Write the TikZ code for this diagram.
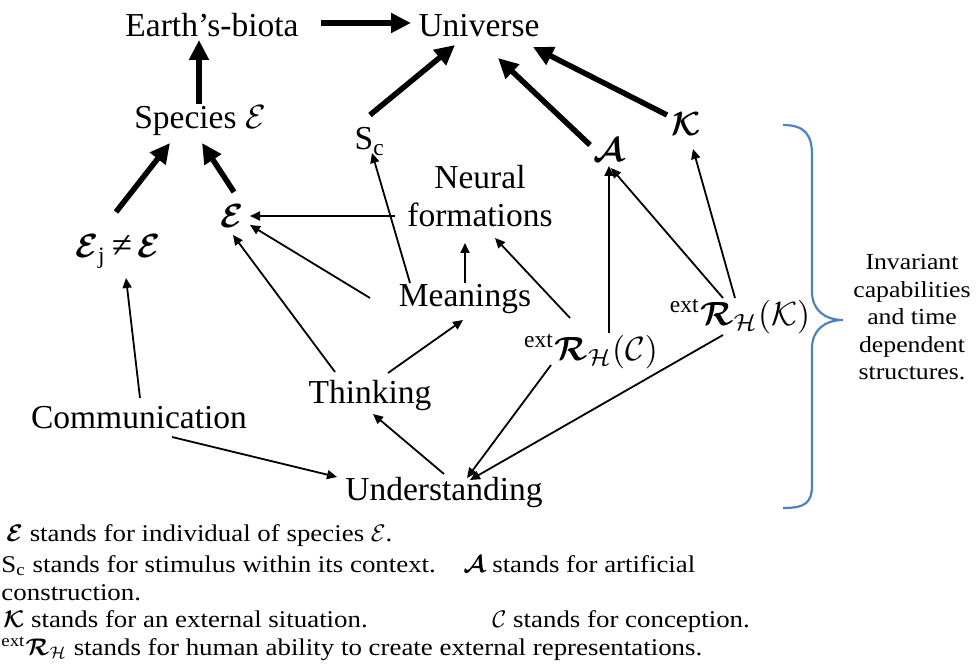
\documentclass[tikz,border=0pt]{standalone}
\usepackage{amsmath}
\usepackage{bm}
\usepackage{fontspec}
\setmainfont{Liberation Serif}
\newfontfamily\legfont[FakeStretch=1.12]{Liberation Serif}
\usetikzlibrary{arrows.meta}
\newcommand{\hE}{\bm{\mathcal{E}}}
\newcommand{\hA}{\bm{\mathcal{A}}}
\newcommand{\hK}{\bm{\mathcal{K}}}
\newcommand{\hR}{\bm{\mathcal{R}}}
\definecolor{braceblue}{RGB}{79,129,189}
\begin{document}
\begin{tikzpicture}[x=1pt,y=-1pt,
  lbl/.style={inner sep=0pt, anchor=base, scale=3.35, font=\fontsize{10}{11.34}\selectfont},
  leg/.style={inner sep=0pt, anchor=base west, scale=2.4, font=\legfont\fontsize{10}{12}\selectfont},
  bigarr/.style={line width=5.5pt, -{Triangle[length=20pt,width=19pt]}},
  smallarr/.style={line width=1.8pt, -{Triangle[length=10pt,width=9pt]}}]
\useasboundingbox (0,0) rectangle (977,668);
% nodes
\node[lbl] (eb) at (212,37) {Earth’s-biota};
\node[lbl] (uni) at (479,37) {Universe};
\node[lbl] (spe) at (200,129) {Species $\mathcal{E}$};
\node[lbl] (sc) at (370,150) {S\textsubscript{c}};
\node[lbl] (nA) at (609,162) {$\hA$};
\node[lbl] (nK) at (686,136) {$\hK$};
\node[lbl, anchor=center, align=center] (neu) at (480,196) {Neural\\formations};
\node[lbl] (ind) at (232,228) {$\hE$};
\node[lbl] (ej) at (118,258) {$\hE_{\mathrm{j}}$\,{\fontsize{11}{12}\selectfont ≠}\,$\hE$};
\node[lbl] (mean) at (465,307) {Meanings};
\node[lbl] (rc) at (591,360) {\textsuperscript{ext}$\hR_{\mathcal{H}}(\mathcal{C})$};
\node[lbl] (rk) at (740,325) {\textsuperscript{ext}$\hR_{\mathcal{H}}(\mathcal{K})$};
\node[lbl] (thk) at (370,403) {Thinking};
\node[lbl] (com) at (139,428) {Communication};
\node[lbl] (und) at (444,500) {Understanding};
% thick arrows
\draw[bigarr] ([shift={(109,-14)}]eb.base) -- ([shift={(-68,-14)}]uni.base);
\draw[bigarr] ([shift={(-1,-25)}]spe.base) -- ([shift={(-13,3)}]eb.base);
\draw[bigarr] ([shift={(0,-35)}]sc.base) -- ([shift={(-24,8)}]uni.base);
\draw[bigarr] ([shift={(-19,-17)}]nA.base) -- ([shift={(19,21)}]uni.base);
\draw[bigarr] ([shift={(-19,-21)}]nK.base) -- ([shift={(54,10)}]uni.base);
\draw[bigarr] ([shift={(-2,-46)}]ej.base) -- ([shift={(-30,14)}]spe.base);
\draw[bigarr] ([shift={(2,-36)}]ind.base) -- ([shift={(2,14)}]spe.base);
% thin arrows
\draw[smallarr] ([shift={(-85,20)}]neu.center) -- ([shift={(18,-12)}]ind.base);
\draw[smallarr] ([shift={(-95,-9)}]mean.base) -- ([shift={(18,-3)}]ind.base);
\draw[smallarr] ([shift={(-35,-31)}]thk.base) -- ([shift={(1,7)}]ind.base);
\draw[smallarr] ([shift={(-55,-24)}]mean.base) -- ([shift={(2,3)}]sc.base);
\draw[smallarr] ([shift={(0,-24)}]mean.base) -- ([shift={(-15,47)}]neu.center);
\draw[smallarr] ([shift={(18,-30)}]thk.base) -- ([shift={(-2,13)}]mean.base);
\draw[smallarr] ([shift={(-21,-42)}]rc.base) -- ([shift={(15,42)}]neu.center);
\draw[smallarr] ([shift={(18,-27)}]rc.base) -- ([shift={(0,4)}]nA.base);
\draw[smallarr] ([shift={(-17,-27)}]rk.base) -- ([shift={(2,6)}]nA.base);
\draw[smallarr] ([shift={(-5,-27)}]rk.base) -- ([shift={(7,13)}]nK.base);
\draw[smallarr] ([shift={(-40,5)}]rc.base) -- ([shift={(23,-22)}]und.base);
\draw[smallarr] ([shift={(-17,10)}]rk.base) -- ([shift={(26,-20)}]und.base);
\draw[smallarr] ([shift={(33,9)}]com.base) -- ([shift={(-107,-23)}]und.base);
\draw[smallarr] ([shift={(0,-26)}]und.base) -- ([shift={(3,11)}]thk.base);
\draw[smallarr] ([shift={(1,-30)}]com.base) -- ([shift={(8,20)}]ej.base);
% brace
\draw[braceblue, line width=2.2pt] (783,125) .. controls (805,125) and (812,135) .. (812,155)
  -- (812,292) .. controls (812,310) and (825,320) .. (843,320)
  .. controls (825,320) and (812,330) .. (812,348)
  -- (812,485) .. controls (812,503) and (805,508) .. (783,508);
\node[inner sep=0pt, align=center, scale=2.3, font=\legfont\fontsize{10}{11.96}\selectfont] (inv) at (912,317.5)
  {Invariant\\capabilities\\and time\\dependent\\structures.};
% legend
\node[leg] (l1) at (6,541) {$\hE$ stands for individual of species $\mathcal{E}$.};
\node[leg] (l2) at (1,572) {S\textsubscript{c} stands for stimulus within its context.};
\node[leg] (l2b) at (463,572) {$\hA$ stands for artificial};
\node[leg] (l3) at (1,600) {construction.};
\node[leg] (l4) at (3,627) {$\hK$ stands for an external situation.};
\node[leg] (l4b) at (492,627) {$\mathcal{C}$ stands for conception.};
\node[leg] (l5) at (1,655) {\textsuperscript{ext}$\hR_{\mathcal{H}}$ stands for human ability to create external representations.};
\end{tikzpicture}
\end{document}
